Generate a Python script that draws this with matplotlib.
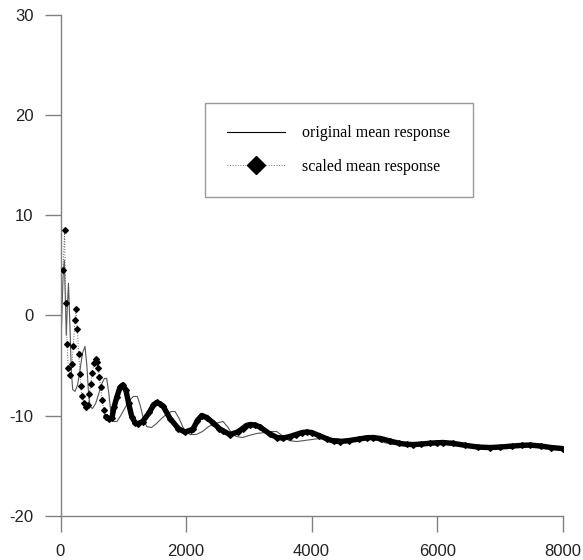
import numpy as np
import matplotlib
matplotlib.use("Agg")
import matplotlib.pyplot as plt
from matplotlib.lines import Line2D

plt.rcParams["axes.unicode_minus"] = False

# original mean response (thin line)
orig_x = [0, 20, 40, 61, 76, 92, 110, 127, 150, 172, 194, 230, 270, 310, 350, 390,
          420, 445, 470, 510, 560, 610, 660, 700, 736, 770, 800, 841, 900, 960,
          1030, 1100, 1160, 1224, 1270, 1320, 1373, 1450, 1530, 1610, 1700, 1770,
          1824, 1890, 1960, 2063, 2160, 2260, 2360, 2460, 2590, 2670, 2740, 2806,
          2900, 3000, 3120, 3250, 3350, 3444, 3530, 3640, 3762, 3880, 4000, 4120,
          4250, 4425, 4600, 4800, 4950, 5100, 5250, 5450, 5650, 5850, 6050, 6250,
          6500, 6750, 6950, 7200, 7450, 7700, 7900, 8000]
orig_y = [-3.8, -0.5, 3.8, 5.5, 2.0, -2.0, 1.0, 3.2, -1.0, -5.5, -7.4, -7.6, -7.0,
          -5.5, -3.8, -3.1, -5.0, -7.6, -9.1, -9.3, -8.8, -7.8, -6.8, -6.3, -6.3,
          -7.8, -9.6, -10.6, -10.6, -10.0, -9.2, -8.5, -8.1, -8.1, -9.0, -10.3,
          -11.1, -11.2, -10.8, -10.3, -9.8, -9.6, -9.6, -10.3, -11.3, -11.9, -11.9,
          -11.6, -11.1, -10.8, -10.6, -11.2, -11.9, -12.1, -12.2, -12.0, -11.8,
          -11.7, -11.6, -11.6, -12.0, -12.5, -12.6, -12.5, -12.4, -12.3, -12.3,
          -12.3, -12.6, -12.5, -12.3, -12.6, -12.85, -12.9, -12.85, -12.75, -12.75,
          -12.9, -13.1, -13.2, -13.15, -13.05, -12.95, -13.05, -13.2, -13.3]

# scaled mean response (diamonds)
scaled_x = [40, 65, 85, 104, 125, 151, 183, 204, 231, 247, 268, 290, 311, 321, 342,
            374, 406, 438, 459, 480, 502, 534, 561, 581, 603, 619, 640, 666, 693,
            725, 773, 820, 852, 895, 948, 991, 1043, 1086, 1134, 1190, 1240, 1309,
            1415, 1480, 1532, 1590, 1638, 1744, 1877, 1980, 2080, 2116, 2180, 2250,
            2330, 2434, 2530, 2593, 2700, 2820, 2900, 2960, 3019, 3100, 3178, 3337,
            3450, 3549, 3650, 3750, 3850, 3922, 4000, 4120, 4250, 4350, 4452, 4600,
            4750, 4880, 4983, 5100, 5250, 5400, 5520, 5620, 5750, 5880, 6000, 6098,
            6250, 6450, 6650, 6842, 7000, 7200, 7350, 7479, 7650, 7820, 8000]
scaled_y = [4.5, 8.5, 1.2, -2.9, -5.3, -6.0, -4.9, -3.1, -0.45, 0.6, -1.35, -3.85,
            -5.9, -7.1, -8.1, -8.8, -9.2, -9.0, -7.9, -6.9, -5.8, -4.75, -4.35,
            -4.7, -5.3, -6.2, -7.2, -8.5, -9.5, -10.1, -10.35, -10.2, -9.2, -8.2,
            -7.2, -6.95, -7.5, -8.8, -10.1, -10.75, -10.8, -10.6, -9.7, -8.95, -8.7,
            -8.85, -9.1, -10.3, -11.3, -11.65, -11.45, -11.3, -10.5, -10.0, -10.2,
            -10.75, -11.3, -11.55, -11.9, -11.65, -11.3, -11.0, -10.9, -10.95,
            -11.15, -11.85, -12.2, -12.25, -12.1, -11.9, -11.7, -11.65, -11.7,
            -12.0, -12.35, -12.55, -12.6, -12.5, -12.35, -12.22, -12.2, -12.3,
            -12.55, -12.78, -12.88, -12.9, -12.85, -12.77, -12.72, -12.7, -12.78,
            -12.98, -13.15, -13.2, -13.15, -13.05, -12.98, -12.95, -13.05, -13.2,
            -13.3]

x_ticks = [0, 2000, 4000, 6000, 8000]
y_ticks = [-20, -10, 0, 10, 20, 30]
labels = ["original mean response", "scaled mean response"]

W, H = 583, 560
fig = plt.figure(figsize=(W / 100, H / 100), dpi=100)
ax = fig.add_axes([60.5 / W, 44.3 / H, 502.2 / W, 501 / H])

gray = "#808080"
ax.plot(orig_x, orig_y, color="#555555", lw=0.8, zorder=2)

sx = np.array(scaled_x)
sy = np.array(scaled_y)
ax.plot(sx, sy, color="#666666", lw=0.7, ls=":", zorder=3)
ax.plot(sx, sy, ls="none", marker="D", ms=2.9, color="black", zorder=4)
# later part: the diamonds merge into a thick band
late = sx >= 700
ax.plot(sx[late], sy[late], color="black", lw=3.9, solid_capstyle="round",
        solid_joinstyle="round", zorder=4)

ax.set_xlim(0, 8000)
ax.set_ylim(-20, 30)
ax.set_xticks(x_ticks)
ax.set_yticks(y_ticks)
for s in ["top", "right"]:
    ax.spines[s].set_visible(False)
for s in ["left", "bottom"]:
    ax.spines[s].set_color(gray)
    ax.spines[s].set_linewidth(1.0)
ax.tick_params(direction="out", length=11.5, width=1.0, color=gray,
               labelsize=12, pad=8)
ax.tick_params(axis="x", pad=9)
for t in ax.get_xticklabels() + ax.get_yticklabels():
    t.set_fontfamily("Liberation Sans")
    t.set_color("#222222")

handles = [
    Line2D([], [], color="black", lw=0.8),
    Line2D([], [], color="#777777", lw=0.7, ls=":", marker="D", ms=9,
           markerfacecolor="black", markeredgecolor="black"),
]
leg = ax.legend(handles, labels, loc="upper left",
                bbox_to_anchor=(205 / W, 1 - 103 / H), bbox_transform=fig.transFigure,
                borderaxespad=0, prop={"family": "Liberation Serif", "size": 11.5},
                handlelength=3.6, handletextpad=1.1, borderpad=1.4,
                labelspacing=1.1, frameon=True, fancybox=False)
leg.get_frame().set_edgecolor(gray)
leg.get_frame().set_linewidth(1.0)

fig.savefig("out.png", dpi=100)
